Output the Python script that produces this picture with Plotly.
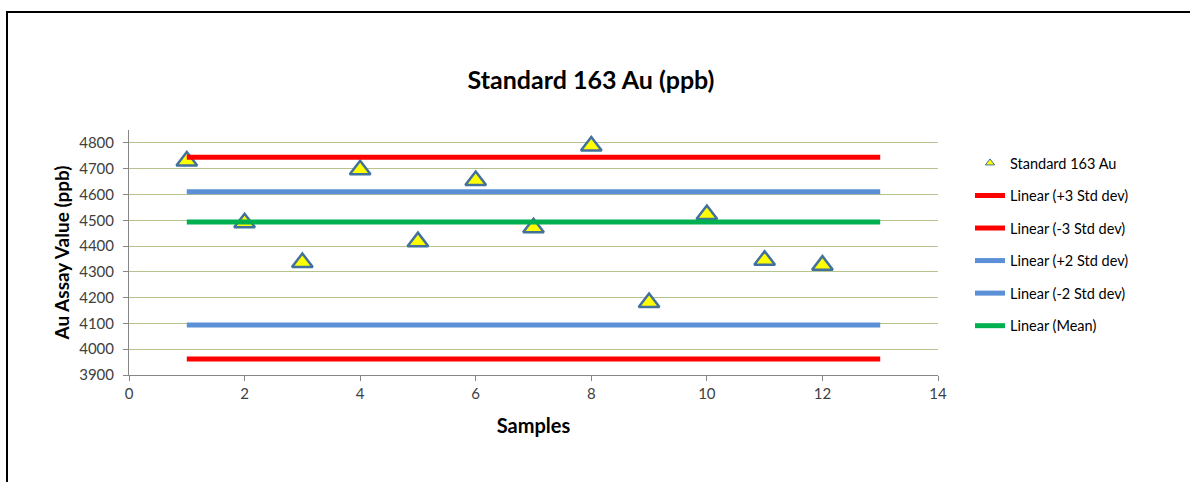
import plotly.graph_objects as go

# Data
samples = [1, 2, 3, 4, 5, 6, 7, 8, 9, 10, 11, 12]
au_values = [4730, 4490, 4336, 4696, 4417, 4654, 4471, 4788, 4181, 4522, 4345, 4326]

line_x = [1, 13]
plus3 = 4744
minus3 = 3962
plus2 = 4611
minus2 = 4094
mean_val = 4493

line_names = ["Linear (+3 Std dev)", "Linear (-3 Std dev)", "Linear (+2 Std dev)",
              "Linear (-2 Std dev)", "Linear (Mean)"]
line_values = [plus3, minus3, plus2, minus2, mean_val]
line_colors = ["#FF0000", "#FF0000", "#5B8FD6", "#5B8FD6", "#00B050"]

FONT = "Lato"

fig = go.Figure()
fig.add_trace(go.Scatter(
    x=samples, y=au_values, mode="markers", name="Standard 163 Au",
    legendgroup="g0", showlegend=False,
    marker=dict(symbol="triangle-up", size=18, color="#FFFF00",
                line=dict(color="#41719C", width=2.5)),
))
# legend-only entry with a small marker, as in the reference legend
fig.add_trace(go.Scatter(
    x=[None], y=[None], mode="markers", name="Standard 163 Au",
    legendgroup="g0", showlegend=True,
    marker=dict(symbol="triangle-up", size=8, color="#FFFF00",
                line=dict(color="#41719C", width=1)),
))
for i, (nm, v, c) in enumerate(zip(line_names, line_values, line_colors)):
    fig.add_trace(go.Scatter(
        x=line_x, y=[v] * len(line_x), mode="lines", name=nm,
        legendgroup=f"g{i+1}",
        line=dict(color=c, width=5),
    ))

L, R, T, B = 129, 1190 - 938, 130, 482 - 375
pw, ph = 938 - 129, 375 - 130

def px_x(p):
    return (p - L) / pw

def px_y(p):
    return (375 - p) / ph

fig.update_layout(
    width=1190, height=482,
    margin=dict(l=L, r=R, t=T, b=B),
    paper_bgcolor="white", plot_bgcolor="white",
    font=dict(family=FONT, color="#404040", size=14),
    title=dict(text="<b>Standard 163 Au (ppb)</b>", x=591 / 1190, xanchor="center",
               y=1 - 80 / 482, yanchor="middle",
               font=dict(family=FONT, size=25, color="#000000")),
    showlegend=True,
    legend=dict(x=px_x(970), y=px_y(147), xanchor="left", yanchor="top",
                font=dict(family=FONT, size=14.5, color="#000000"),
                tracegroupgap=10.7, bgcolor="rgba(0,0,0,0)"),
    xaxis=dict(range=[0, 14], dtick=2, tick0=0, showgrid=False, zeroline=False,
               showline=True, linecolor="#868686", linewidth=1,
               ticks="outside", ticklen=5, tickcolor="#868686",
               tickfont=dict(family=FONT, size=15, color="#404040"),
               title=dict(text="<b>Samples</b>", standoff=17,
                          font=dict(family=FONT, size=20, color="#000000"))),
    yaxis=dict(range=[3900, 4850], dtick=100, tick0=3900, showgrid=True,
               gridcolor="#B5C38F", gridwidth=1, zeroline=False,
               showline=True, linecolor="#868686", linewidth=1,
               ticks="outside", ticklen=5, tickcolor="#868686",
               ticklabelstandoff=6,
               tickvals=list(range(3900, 4801, 100)),
               tickfont=dict(family=FONT, size=15, color="#404040"),
               title=dict(text="<b>Au Assay Value (ppb)</b>", standoff=4,
                          font=dict(family=FONT, size=19, color="#000000"))),
    shapes=[dict(type="rect", xref="paper", yref="paper",
                 x0=px_x(7), x1=px_x(1200), y0=px_y(495), y1=px_y(12),
                 line=dict(color="#000000", width=2), fillcolor="rgba(0,0,0,0)",
                 layer="below")],
)

fig.write_html("out.html")
